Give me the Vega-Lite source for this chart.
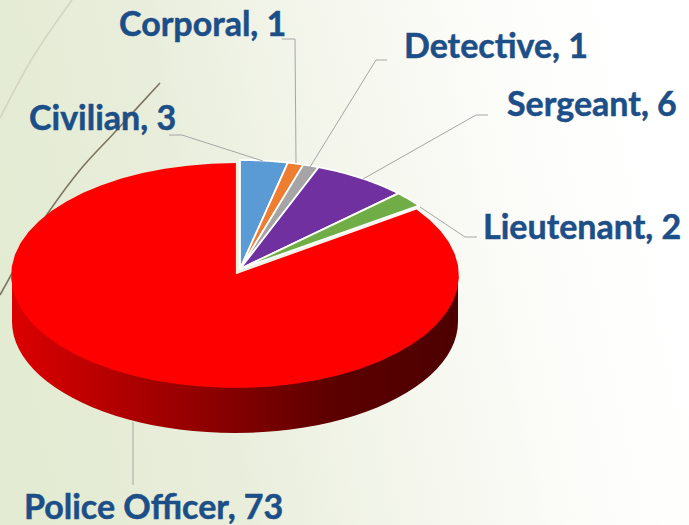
{"$schema":"https://vega.github.io/schema/vega-lite/v6.json","width":689,"height":525,"padding":0,"autosize":{"type":"none"},"background":"white","view":{"stroke":null,"fill":{"gradient":"linear","x1":0,"y1":0.55,"x2":0.95,"y2":0.4,"stops":[{"offset":0,"color":"#e3ebd2"},{"offset":0.3,"color":"#e9eedc"},{"offset":0.55,"color":"#f4f6ec"},{"offset":0.8,"color":"#fcfcf9"},{"offset":1,"color":"#ffffff"}]}},"datasets":{"slices":[{"slice":"Civilian","value":3,"rank":1},{"slice":"Corporal","value":1,"rank":2},{"slice":"Detective","value":1,"rank":3},{"slice":"Sergeant","value":6,"rank":4},{"slice":"Lieutenant","value":2,"rank":5},{"slice":"Police Officer","value":73,"rank":6}],"swoosh":[{"curve":"dark","px":160,"py":83},{"curve":"dark","px":115,"py":132},{"curve":"dark","px":80,"py":170},{"curve":"dark","px":48,"py":213},{"curve":"dark","px":26,"py":248},{"curve":"dark","px":10,"py":277},{"curve":"dark","px":0,"py":295},{"curve":"light","px":72,"py":0},{"curve":"light","px":33,"py":57},{"curve":"light","px":0,"py":118}]},"encoding":{"x":{"field":"px","type":"quantitative","scale":{"domain":[0,689],"nice":false,"zero":false},"axis":null},"y":{"field":"py","type":"quantitative","scale":{"domain":[525,0],"nice":false,"zero":false},"axis":null}},"layer":[{"data":{"name":"swoosh"},"transform":[{"filter":"datum.curve=='dark'"}],"mark":{"type":"line","color":"#7d755f","strokeWidth":1.6,"interpolate":"cardinal"},"encoding":{"order":{"field":"py"}}},{"data":{"name":"swoosh"},"transform":[{"filter":"datum.curve=='light'"}],"mark":{"type":"line","color":"#d2d5c2","strokeWidth":1.6,"interpolate":"cardinal"},"encoding":{"order":{"field":"py"}}},{"data":{"name":"slices"},"transform":[{"filter":"datum.slice=='Police Officer'"},{"calculate":"sequence(0,1.01,0.02)","as":"ts"},{"flatten":["ts"]},{"calculate":"PI/2+PI*datum.ts","as":"a"},{"calculate":"235+223*sin(datum.a)","as":"px"},{"calculate":"275.5-111.5*cos(datum.a)","as":"py"},{"calculate":"datum.py+46","as":"py2"}],"mark":{"type":"area","color":{"gradient":"linear","x1":0,"y1":0,"x2":1,"y2":0,"stops":[{"offset":0,"color":"#dc0000"},{"offset":0.72,"color":"#5c0000"},{"offset":1,"color":"#4d0000"}]}},"encoding":{"y2":{"field":"py2"}}},{"data":{"name":"slices"},"transform":[{"joinaggregate":[{"op":"sum","field":"value","as":"total"}]},{"window":[{"op":"sum","field":"value","as":"cum"}],"sort":[{"field":"rank"}]},{"calculate":"2*PI*(datum.cum-datum.value)/datum.total","as":"a0"},{"calculate":"2*PI*datum.cum/datum.total","as":"a1"},{"calculate":"sequence(-0.02,1.03,0.02)","as":"ts"},{"flatten":["ts"]},{"calculate":"datum.slice=='Police Officer'?235:240","as":"cx"},{"calculate":"datum.slice=='Police Officer'?275.5:269","as":"cy"},{"calculate":"datum.slice=='Police Officer'?223:220","as":"rx"},{"calculate":"datum.slice=='Police Officer'?111.5:109","as":"ry"},{"calculate":"datum.a0+(datum.a1-datum.a0)*clamp(datum.ts,0,1)","as":"a"},{"calculate":"datum.ts<-0.01||datum.ts>1.01?0:1","as":"rim"},{"calculate":"datum.cx+datum.rim*datum.rx*sin(datum.a)","as":"px"},{"calculate":"datum.cy-datum.rim*datum.ry*cos(datum.a)","as":"py"}],"mark":{"type":"line","strokeJoin":"miter","strokeWidth":1.8,"interpolate":"linear"},"encoding":{"detail":{"field":"slice"},"order":{"field":"ts"},"fill":{"field":"slice","type":"nominal","sort":null,"scale":{"domain":["Police Officer","Civilian","Corporal","Detective","Sergeant","Lieutenant"],"range":["#ff0000","#5b9bd5","#ed7d31","#a5a5a5","#7030a0","#70ad47"]},"legend":null},"stroke":{"field":"slice","type":"nominal","scale":{"domain":["Police Officer","Civilian","Corporal","Detective","Sergeant","Lieutenant"],"range":["#ff0000","#ffffff","#ffffff","#ffffff","#ffffff","#ffffff"]},"legend":null}}},{"data":{"name":"slices"},"transform":[{"calculate":"{'Civilian':[169,182,263],'Corporal':[282,295,296],'Detective':[387,376,310],'Sergeant':[488,476,363],'Lieutenant':[477,465,420],'Police Officer':[133,133,133]}[datum.slice]","as":"xs"},{"calculate":"{'Civilian':[135,135,161],'Corporal':[39,39,163],'Detective':[60,60,167],'Sergeant':[115,115,179],'Lieutenant':[237,237,207],'Police Officer':[485,450,422]}[datum.slice]","as":"ys"},{"calculate":"[0,1,2]","as":"idx"},{"flatten":["xs","ys","idx"],"as":["px","py","i"]}],"mark":{"type":"line","color":"#a6a6a6","strokeWidth":1},"encoding":{"detail":{"field":"slice"},"order":{"field":"i"}}},{"data":{"name":"slices"},"transform":[{"calculate":"datum.slice+', '+datum.value","as":"label"},{"calculate":"{'Civilian':29,'Corporal':119,'Detective':404,'Sergeant':507,'Lieutenant':483,'Police Officer':24}[datum.slice]","as":"px"},{"calculate":"{'Civilian':130,'Corporal':36,'Detective':58,'Sergeant':116,'Lieutenant':239,'Police Officer':519}[datum.slice]","as":"py"}],"mark":{"type":"text","align":"left","baseline":"alphabetic","font":"Lato","fontWeight":"bold","fontSize":34,"color":"#1c4e87","stroke":"#1c4e87","strokeWidth":0.5},"encoding":{"text":{"field":"label"}}}]}
